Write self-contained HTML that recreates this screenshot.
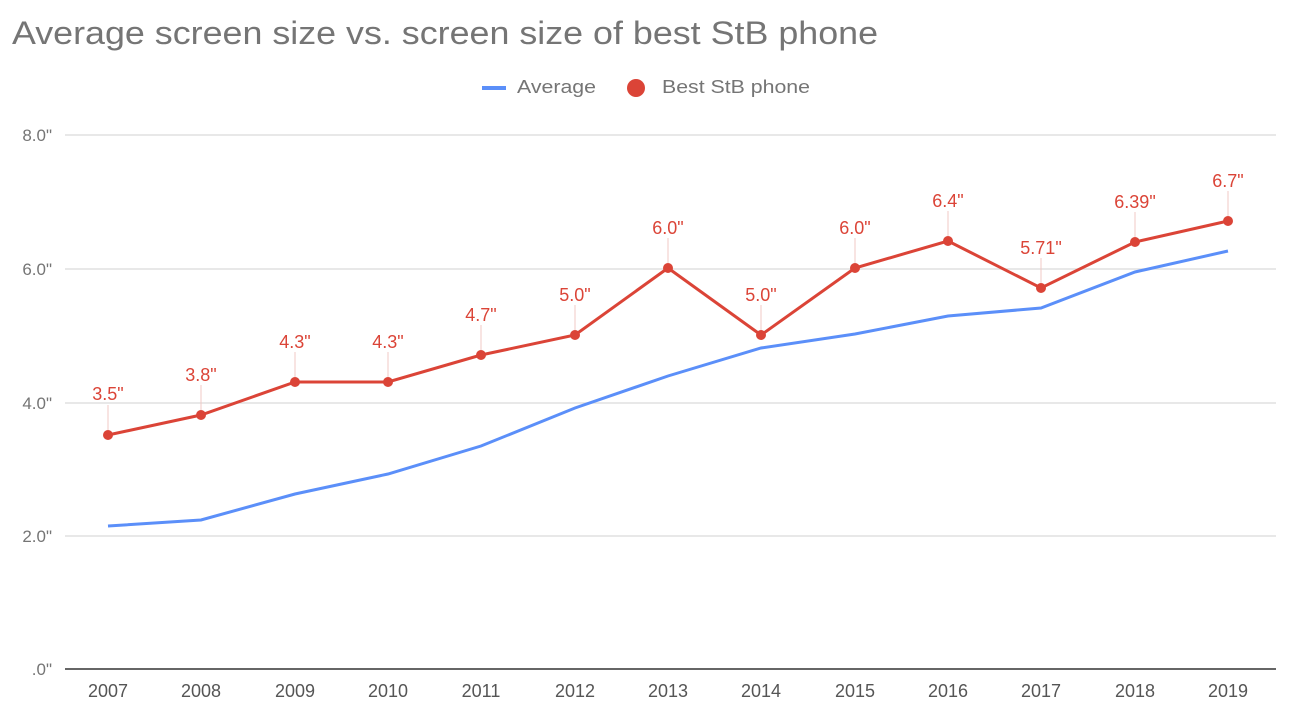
<!DOCTYPE html>
<html><head><meta charset="utf-8"><style>
body{margin:0;background:#fff;}
svg{display:block;font-family:"Liberation Sans",Arial,sans-serif;}
</style></head><body>
<svg width="1290" height="724" viewBox="0 0 1290 724" xmlns="http://www.w3.org/2000/svg">
<rect width="1290" height="724" fill="#fff"/>
<text x="12" y="44" font-size="32" fill="#757575" textLength="866" lengthAdjust="spacingAndGlyphs">Average screen size vs. screen size of best StB phone</text>
<line x1="482" y1="88" x2="506" y2="88" stroke="#5b8ff9" stroke-width="4"/>
<text x="517" y="93" font-size="18" fill="#757575" textLength="79" lengthAdjust="spacingAndGlyphs">Average</text>
<circle cx="636" cy="88" r="9" fill="#db4437"/>
<text x="662" y="93" font-size="18" fill="#757575" textLength="148" lengthAdjust="spacingAndGlyphs">Best StB phone</text>
<g stroke="#e0e0e0" stroke-width="1.5">
<line x1="65" y1="135" x2="1276" y2="135"/>
<line x1="65" y1="269" x2="1276" y2="269"/>
<line x1="65" y1="403" x2="1276" y2="403"/>
<line x1="65" y1="536" x2="1276" y2="536"/>
</g>
<line x1="65" y1="669" x2="1276" y2="669" stroke="#333" stroke-width="1.5"/>
<g font-size="17" fill="#757575" text-anchor="end">
<text x="52" y="141">8.0"</text>
<text x="52" y="275">6.0"</text>
<text x="52" y="409">4.0"</text>
<text x="52" y="542">2.0"</text>
<text x="52" y="675">.0"</text>
</g>
<g font-size="18" fill="#555" text-anchor="middle">
<text x="108" y="697">2007</text><text x="201" y="697">2008</text><text x="295" y="697">2009</text><text x="388" y="697">2010</text><text x="481" y="697">2011</text><text x="575" y="697">2012</text><text x="668" y="697">2013</text><text x="761" y="697">2014</text><text x="855" y="697">2015</text><text x="948" y="697">2016</text><text x="1041" y="697">2017</text><text x="1135" y="697">2018</text><text x="1228" y="697">2019</text>
</g>
<polyline fill="none" stroke="#5b8ff9" stroke-width="3" points="108,526 201,520 295,494 388,474 481,446 575,408 668,376 761,348 855,334 948,316 1041,308 1135,272 1228,251"/>
<g stroke="#f0c8c4" stroke-width="1">
<line x1="108" y1="405" x2="108" y2="430"/><line x1="201" y1="385" x2="201" y2="410"/><line x1="295" y1="352" x2="295" y2="377"/><line x1="388" y1="352" x2="388" y2="377"/><line x1="481" y1="325" x2="481" y2="350"/><line x1="575" y1="305" x2="575" y2="330"/><line x1="668" y1="238" x2="668" y2="263"/><line x1="761" y1="305" x2="761" y2="330"/><line x1="855" y1="238" x2="855" y2="263"/><line x1="948" y1="211" x2="948" y2="236"/><line x1="1041" y1="258" x2="1041" y2="283"/><line x1="1135" y1="212" x2="1135" y2="237"/><line x1="1228" y1="191" x2="1228" y2="216"/>
</g>
<polyline fill="none" stroke="#db4437" stroke-width="3" points="108,435 201,415 295,382 388,382 481,355 575,335 668,268 761,335 855,268 948,241 1041,288 1135,242 1228,221"/>
<g fill="#db4437">
<circle cx="108" cy="435" r="5"/><circle cx="201" cy="415" r="5"/><circle cx="295" cy="382" r="5"/><circle cx="388" cy="382" r="5"/><circle cx="481" cy="355" r="5"/><circle cx="575" cy="335" r="5"/><circle cx="668" cy="268" r="5"/><circle cx="761" cy="335" r="5"/><circle cx="855" cy="268" r="5"/><circle cx="948" cy="241" r="5"/><circle cx="1041" cy="288" r="5"/><circle cx="1135" cy="242" r="5"/><circle cx="1228" cy="221" r="5"/>
</g>
<g font-size="18" fill="#db4437" text-anchor="middle">
<text x="108" y="400">3.5"</text><text x="201" y="381">3.8"</text><text x="295" y="348">4.3"</text><text x="388" y="348">4.3"</text><text x="481" y="321">4.7"</text><text x="575" y="301">5.0"</text><text x="668" y="234">6.0"</text><text x="761" y="301">5.0"</text><text x="855" y="234">6.0"</text><text x="948" y="207">6.4"</text><text x="1041" y="254">5.71"</text><text x="1135" y="208">6.39"</text><text x="1228" y="187">6.7"</text>
</g>
</svg>
</body></html>
